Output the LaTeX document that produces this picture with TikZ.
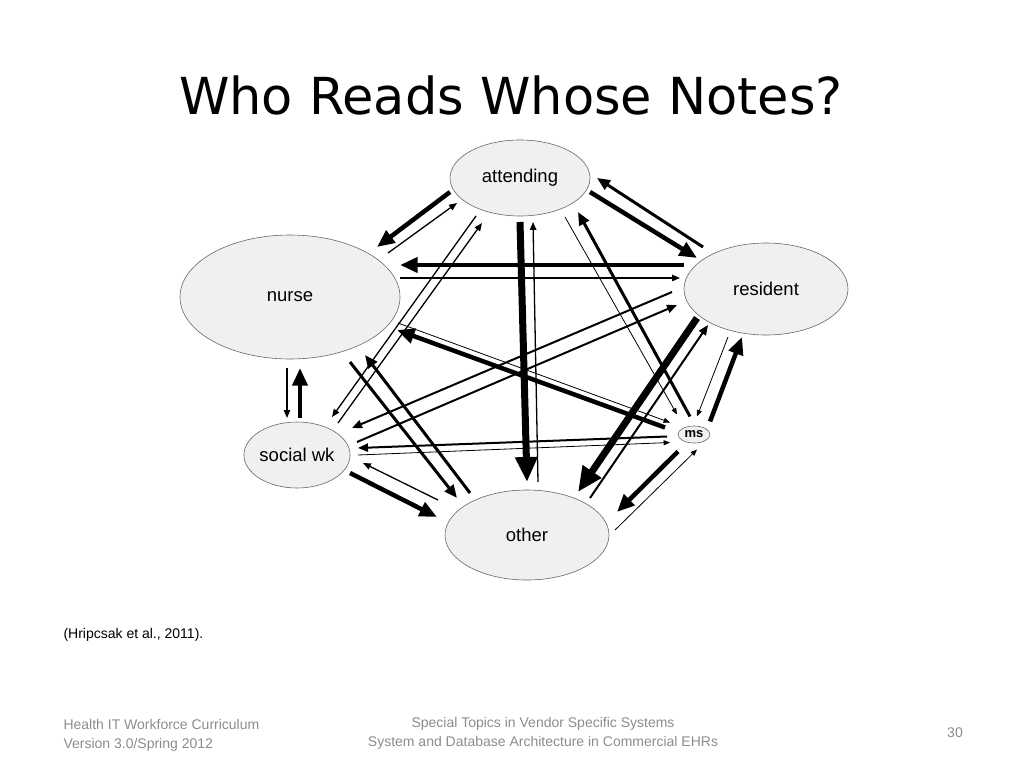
\documentclass[tikz,border=0pt]{standalone}
\usepackage{fontspec}
\setmainfont{Liberation Sans}
\newfontfamily\titlefont{DejaVu Sans}
\usetikzlibrary{arrows.meta,calc,shapes.geometric}

\begin{document}
\begin{tikzpicture}[x=1pt,y=-1pt]
                \useasboundingbox (0,0) rectangle (1024,768);
                \node[anchor=base] (title) at (511,114) {\titlefont\fontsize{51}{60}\selectfont Who Reads Whose Notes?};

                \begin{scope}[every node/.style = {ellipse, draw=black!60, fill=black!6, line width=0.6pt,
                                inner sep=0pt, font=\fontsize{18.5}{22}\selectfont}]
                    \node[minimum width=140pt, minimum height=76pt]  (attending) at (520,178) {attending};
                    \node[minimum width=220pt, minimum height=124pt] (nurse)     at (290,297) {nurse};
                    \node[minimum width=164pt, minimum height=92pt]  (resident)  at (766,289) {resident};
                    \node[minimum width=106pt, minimum height=66pt]  (socialwk)  at (297,455) {social wk};
                    \node[minimum width=164pt, minimum height=90pt]  (other)     at (527,535) {other};
                    \node[minimum width=32pt, minimum height=17pt,
                          font=\fontsize{13}{15}\selectfont\bfseries] (ms)       at (694,434.5) {ms};
                \end{scope}

                \begin{scope}[>={Triangle[length=4pt 3, width=3pt 2.6]},
                                every edge/.style={draw=black},
                                w1/.style={line width=0.8pt}, w2/.style={line width=1.3pt},
                                w3/.style={line width=2pt}, w4/.style={line width=3pt},
                                w5/.style={line width=4.5pt}, w7/.style={line width=7pt}]
                     % attending
                     \path [->, w5] ($(attending)+(-70,14)$) edge ($(nurse)+(87,-50)$);
                     \path [->, w2] ($(nurse)+(98,-44)$) edge ($(attending)+(-63,25)$);
                     \path [->, w2] ($(attending)+(-44,38)$) edge ($(socialwk)+(35,-38)$);
                     \path [->, w2] ($(socialwk)+(41,-32)$) edge ($(attending)+(-38,45)$);
                     \path [->, w5] ($(attending)+(70,14)$) edge ($(resident)+(-69,-31)$);
                     \path [->, w4] ($(resident)+(-63,-42)$) edge ($(attending)+(77,0)$);
                     \path [->, w7] ($(attending)+(0,44)$) edge ($(other)+(0,-53)$);
                     \path [->, w2] ($(other)+(11,-53)$) edge ($(attending)+(13,44)$);
                     \path [->, w1] ($(attending)+(45,39)$) edge ($(ms)+(-17,-20)$);
                     \path [->, w4] ($(ms)+(-4,-18)$) edge ($(attending)+(58,34)$);
                     % nurse
                     \path [->, w5] ($(resident)+(-82,-24)$) edge ($(nurse)+(110,-32)$);
                     \path [->, w2] ($(nurse)+(110,-19)$) edge ($(resident)+(-86,-11)$);
                     \path [->, w2] ($(nurse)+(-3,71)$) edge ($(socialwk)+(-10,-37)$);
                     \path [->, w5] ($(socialwk)+(3,-37)$) edge ($(nurse)+(10,71)$);
                     \path [->, w4] ($(nurse)+(60,65)$) edge ($(other)+(-70,-37)$);
                     \path [->, w4] ($(other)+(-57,-42)$) edge ($(nurse)+(75,58)$);
                     \path [->, w5] ($(ms)+(-29,-7)$) edge ($(nurse)+(107,33)$);
                     \path [->, w1] ($(nurse)+(108,26)$) edge ($(ms)+(-24,-12)$);
                     % resident
                     \path [->, w3] ($(resident)+(-94,3)$) edge ($(socialwk)+(55,-27)$);
                     \path [->, w3] ($(socialwk)+(60,-13)$) edge ($(resident)+(-89,16)$);
                     \path [->, w7] ($(resident)+(-69,29)$) edge ($(other)+(51,-43)$);
                     \path [->, w3] ($(other)+(63,-37)$) edge ($(resident)+(-58,36)$);
                     \path [->, w1] ($(resident)+(-38,48)$) edge ($(ms)+(3,-18)$);
                     \path [->, w5] ($(ms)+(16,-13)$) edge ($(resident)+(-24,48)$);
                     % social wk, other, ms
                     \path [->, w3] ($(ms)+(-27,2)$) edge ($(socialwk)+(61,-7)$);
                     \path [->, w1] ($(socialwk)+(61,0)$) edge ($(ms)+(-24,8)$);
                     \path [->, w5] ($(socialwk)+(53,18)$) edge ($(other)+(-90,-18)$);
                     \path [->, w2] ($(other)+(-89,-35)$) edge ($(socialwk)+(66,8)$);
                     \path [->, w5] ($(ms)+(-16,17)$) edge ($(other)+(90,-23)$);
                     \path [->, w1] ($(other)+(88,-5)$) edge ($(ms)+(3,15)$);
                \end{scope}

                \node[anchor=west, font=\fontsize{14}{17}\selectfont] (source) at (60,635) {(Hripcsak et al., 2011).};
                \begin{scope}[every node/.style={text=black!45, font=\fontsize{14}{19}\selectfont}]
                    \node[anchor=west, align=left] (curriculum) at (60,735) {Health IT Workforce Curriculum\\Version 3.0/Spring 2012};
                    \node[align=center] (course) at (543,733) {Special Topics in Vendor Specific Systems\\System and Database Architecture in Commercial EHRs};
                    \node (page) at (955,733) {30};
                \end{scope}
            \end{tikzpicture}
\end{document}
